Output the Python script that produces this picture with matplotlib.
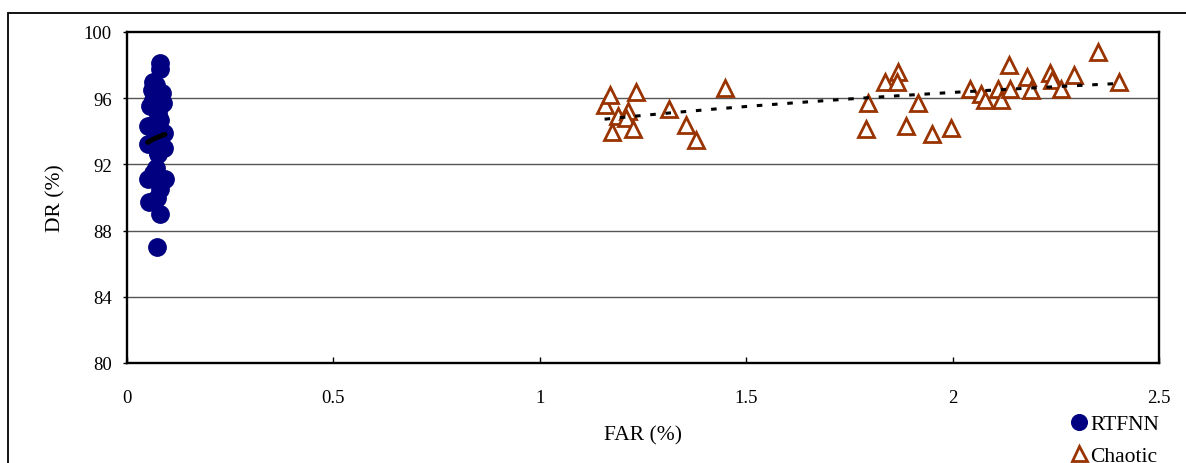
import numpy as np
import matplotlib
matplotlib.use("Agg")
import matplotlib.pyplot as plt
from matplotlib.patches import Rectangle

plt.rcParams['font.family'] = ['Liberation Serif', 'DejaVu Serif']
plt.rcParams['lines.scale_dashes'] = False

# RTFNN data (FAR %, DR %)
rtfnn_far = [0.080, 0.080, 0.064, 0.060, 0.084, 0.088, 0.064, 0.056, 0.076, 0.080,
             0.050, 0.090, 0.050, 0.090, 0.076, 0.064, 0.052, 0.092, 0.080, 0.072,
             0.054, 0.080, 0.072, 0.070, 0.072, 0.068, 0.070, 0.072, 0.070]
rtfnn_dr = [98.1, 97.75, 97.0, 96.5, 96.3, 95.7, 95.9, 95.5, 95.1, 94.7,
            94.3, 93.9, 93.25, 93.0, 92.6, 91.5, 91.1, 91.1, 90.5, 90.0,
            89.7, 89.0, 87.0, 96.8, 95.5, 94.5, 93.5, 92.9, 91.8]

# Chaotic data (FAR %, DR %)
chaotic_far = [1.157, 1.169, 1.19, 1.214, 1.21, 1.176, 1.226, 1.232, 1.312, 1.355,
               1.378, 1.449, 1.795, 1.791, 1.837, 1.868, 1.865, 1.886, 1.916, 1.950,
               1.995, 2.041, 2.069, 2.079, 2.111, 2.118, 2.136, 2.138, 2.180, 2.189,
               2.237, 2.240, 2.263, 2.293, 2.352, 2.403]
chaotic_dr = [95.6, 96.2, 94.9, 95.2, 94.8, 93.93, 94.14, 96.4, 95.36, 94.4,
              93.45, 96.6, 95.7, 94.14, 96.95, 97.6, 97.0, 94.34, 95.74, 93.84,
              94.2, 96.55, 96.25, 95.9, 96.55, 95.87, 98.0, 96.55, 97.3, 96.5,
              97.55, 97.07, 96.55, 97.4, 98.78, 96.95]

x_ticks = [0, 0.5, 1, 1.5, 2, 2.5]
x_tick_labels = ['0', '0.5', '1', '1.5', '2', '2.5']
y_ticks = [80, 84, 88, 92, 96, 100]

W, H = 1186, 464
fig = plt.figure(figsize=(W / 100, H / 100), dpi=100)
ax = fig.add_axes([127 / W, 1 - 364 / H, (1159 - 127) / W, (364 - 33) / H])

# outer chart frame
fig.patches.append(Rectangle((8 / W, -0.1), 1.2, 1 - 13.5 / H + 0.1,
                             transform=fig.transFigure, fill=False,
                             edgecolor='black', linewidth=1.3, zorder=0))

navy = '#000080'
brown = '#993300'

ax.plot(rtfnn_far, rtfnn_dr, linestyle='none', marker='o', markersize=12.5,
        markerfacecolor=navy, markeredgecolor=navy, label='RTFNN', zorder=3)
ax.plot(chaotic_far, chaotic_dr, linestyle='none', marker='^', markersize=12,
        markerfacecolor='white', markeredgecolor=brown, markeredgewidth=2.0,
        label='Chaotic', zorder=3)

# logarithmic trendlines
rx = np.array(rtfnn_far); ry = np.array(rtfnn_dr)
b, a = np.polyfit(np.log(rx), ry, 1)
xs = np.linspace(rx.min(), rx.max(), 50)
ax.plot(xs, a + b * np.log(xs), color='black', linewidth=3.6,
        solid_capstyle='round', zorder=4)

cx = np.array(chaotic_far); cy = np.array(chaotic_dr)
b2, a2 = np.polyfit(np.log(cx), cy, 1)
xs2 = np.linspace(cx.min(), cx.max(), 200)
ax.plot(xs2, a2 + b2 * np.log(xs2), color='black', linewidth=2.2,
        dashes=(4.0, 7.0), zorder=4)

ax.set_xlim(0, 2.5)
ax.set_ylim(80, 100)
ax.set_xticks(x_ticks)
ax.set_xticklabels(x_tick_labels)
ax.set_yticks(y_ticks)
for yv in y_ticks[1:-1]:
    ax.axhline(yv, color='#555555', linewidth=1.0, zorder=1)

for s in ax.spines.values():
    s.set_linewidth(1.7)
ax.tick_params(axis='x', direction='in', length=4, width=1, labelsize=13.5, pad=19)
ax.tick_params(axis='y', direction='out', length=3, width=1, labelsize=13.5, pad=8)

fig.text(643 / W, 1 - 436 / H, 'FAR (%)', ha='center', va='center', fontsize=15.5)
fig.text(56 / W, 1 - 198 / H, 'DR (%)', ha='center', va='center', fontsize=15.5,
         rotation=90)

leg = fig.legend(loc='upper left', bbox_to_anchor=(1070 / W, 1 - 415 / H),
                 frameon=False, fontsize=15.5, handlelength=0.8,
                 handletextpad=0.15, labelspacing=0.55, borderaxespad=0,
                 borderpad=0, markerscale=0.9)

fig.savefig('out.png', dpi=100)
